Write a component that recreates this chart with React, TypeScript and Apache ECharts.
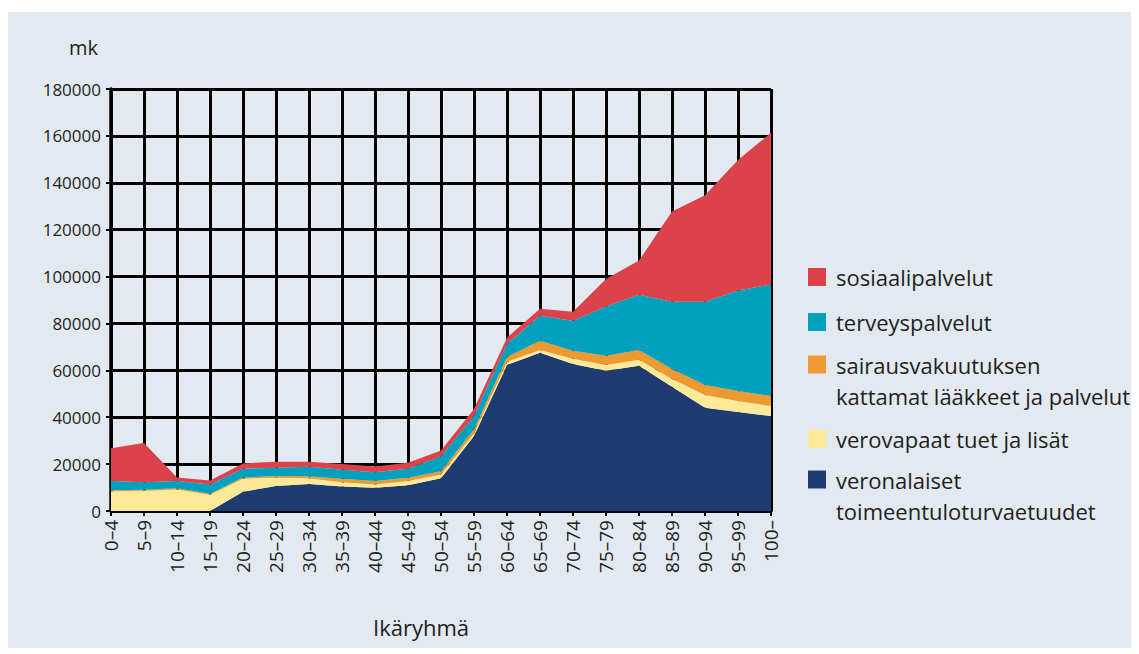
import React, { useEffect, useRef } from "react";
import * as echarts from "echarts";

const categories = [
  "0–4", "5–9", "10–14", "15–19", "20–24", "25–29", "30–34", "35–39", "40–44", "45–49",
  "50–54", "55–59", "60–64", "65–69", "70–74", "75–79", "80–84", "85–89", "90–94", "95–99", "100–",
];

const veronalaiset = [0, 0, 0, 0, 8200, 10700, 11500, 10400, 9900, 11000, 14000, 32000, 62300, 67500, 62700, 59800, 62000, 53000, 44000, 42200, 40500];
const verovapaat = [8400, 8600, 9200, 6900, 5600, 3500, 2500, 1900, 1400, 1800, 1600, 1200, 1300, 1200, 2200, 2500, 2500, 3300, 5500, 4700, 4300];
const sairausvakuutus = [500, 500, 500, 500, 500, 700, 800, 1500, 1500, 1400, 1400, 1700, 2100, 3900, 3400, 3900, 4200, 4300, 4200, 4300, 4200];
const terveyspalvelut = [3900, 3200, 3100, 3900, 3700, 3600, 4100, 3800, 3700, 3800, 6300, 5600, 5600, 10700, 12900, 21000, 23500, 28700, 35600, 42800, 47600];
const sosiaalipalvelut = [14000, 16700, 1500, 1700, 2300, 2500, 2100, 2400, 2500, 2600, 2500, 3000, 2600, 3000, 3800, 11800, 14600, 38500, 45400, 55700, 64700];

const yMin = 0;
const yMax = 180000;
const yInterval = 20000;

const names = {
  navy: "veronalaiset toimeentuloturvaetuudet",
  yellow: "verovapaat tuet ja lisät",
  orange: "sairausvakuutuksen kattamat lääkkeet ja palvelut",
  teal: "terveyspalvelut",
  red: "sosiaalipalvelut",
};

const legendLines: Record<string, string> = {
  [names.red]: "sosiaalipalvelut",
  [names.teal]: "terveyspalvelut",
  [names.orange]: "\nsairausvakuutuksen\nkattamat lääkkeet ja palvelut",
  [names.yellow]: "verovapaat tuet ja lisät",
  [names.navy]: "\nveronalaiset\ntoimeentuloturvaetuudet",
};

const COLORS = {
  navy: "#1f3c72",
  yellow: "#fdea98",
  orange: "#ee9a33",
  teal: "#00a1bf",
  red: "#dc4249",
};

const FONT = "'Open Sans', 'Noto Sans', sans-serif";
const TEXT = "#231f20";

export default function App() {
  const ref = useRef<HTMLDivElement>(null);

  useEffect(() => {
    if (!ref.current) return;
    const chart = echarts.init(ref.current, undefined, { renderer: "svg" });

    const mkSeries = (name: string, data: number[], color: string) => ({
      name,
      type: "line",
      stack: "total",
      data,
      symbol: "none",
      smooth: false,
      lineStyle: { width: 0, color },
      itemStyle: { color },
      areaStyle: { color, opacity: 1 },
    });

    const legendItem = (name: string, centerY: number, multi: boolean) => ({
      show: true,
      left: 800,
      top: multi ? centerY - 47 : centerY - 13,
      orient: "vertical",
      padding: 0,
      itemWidth: 18,
      itemHeight: 18,
      icon: "rect",
      selectedMode: false,
      data: [name],
      formatter: (n: string) => legendLines[n] ?? n,
      textStyle: {
        fontFamily: FONT,
        fontSize: 22,
        color: TEXT,
        lineHeight: multi ? 31 : 26,
        padding: [0, 0, 0, 5],
      },
    });

    chart.setOption({
      animation: false,
      backgroundColor: "#e2e9f0",
      textStyle: { fontFamily: FONT },
      grid: { left: 103, top: 77, width: 660, height: 422, containLabel: false },
      legend: [
        legendItem(names.red, 265, false),
        legendItem(names.teal, 310, false),
        legendItem(names.orange, 353, true),
        legendItem(names.yellow, 427, false),
        legendItem(names.navy, 468, true),
      ],
      xAxis: {
        type: "category",
        data: categories,
        boundaryGap: false,
        name: "Ikäryhmä",
        nameLocation: "middle",
        nameGap: 116,
        nameTextStyle: {
          fontFamily: FONT,
          fontSize: 22,
          color: TEXT,
          verticalAlign: "middle",
          padding: [0, 40, 0, 0],
        },
        axisLine: { show: true, lineStyle: { color: "#000", width: 3.5 } },
        axisTick: { show: true, length: 5, lineStyle: { color: "#000", width: 2 } },
        axisLabel: {
          rotate: 90,
          interval: 0,
          margin: 9,
          fontFamily: FONT,
          fontSize: 19,
          color: TEXT,
        },
        splitLine: { show: true, interval: 0, lineStyle: { color: "#000", width: 3 } },
      },
      yAxis: {
        type: "value",
        min: yMin,
        max: yMax,
        interval: yInterval,
        name: "mk",
        nameLocation: "end",
        nameGap: 42,
        nameTextStyle: {
          fontFamily: FONT,
          fontSize: 20,
          color: TEXT,
          align: "right",
          verticalAlign: "middle",
          padding: [0, 13, 0, 0],
        },
        axisLine: { show: true, lineStyle: { color: "#000", width: 3.5 } },
        axisTick: { show: true, length: 5, lineStyle: { color: "#000", width: 2 } },
        axisLabel: {
          margin: 10,
          fontFamily: FONT,
          fontSize: 17,
          color: TEXT,
          formatter: (v: number) => String(v),
        },
        splitLine: { show: true, lineStyle: { color: "#000", width: 3 } },
      },
      series: [
        mkSeries(names.navy, veronalaiset, COLORS.navy),
        mkSeries(names.yellow, verovapaat, COLORS.yellow),
        mkSeries(names.orange, sairausvakuutus, COLORS.orange),
        mkSeries(names.teal, terveyspalvelut, COLORS.teal),
        mkSeries(names.red, sosiaalipalvelut, COLORS.red),
      ],
    });

    return () => chart.dispose();
  }, []);

  return (
    <div
      ref={ref}
      style={{ position: "relative", top: 4, width: 1131, height: 640 }}
    />
  );
}
